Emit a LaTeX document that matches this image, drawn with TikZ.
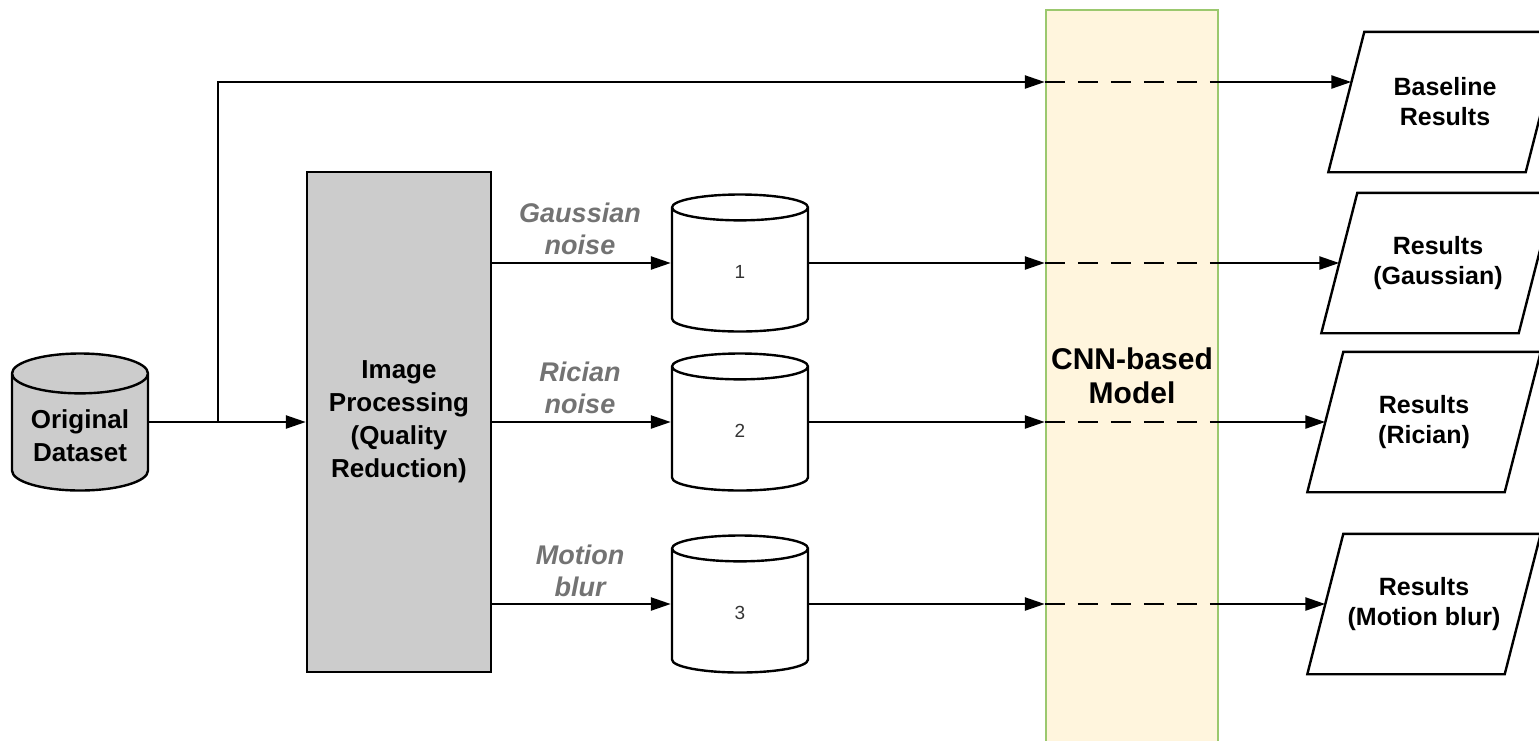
\documentclass[tikz,border=0pt]{standalone}
\usepackage{fontspec}
\setmainfont{Liberation Sans}
\usetikzlibrary{arrows.meta,shapes.geometric}

\definecolor{boxgray}{RGB}{204,204,204}
\definecolor{modelfill}{RGB}{255,245,221}
\definecolor{modelline}{RGB}{155,200,110}
\definecolor{labelgray}{RGB}{115,115,115}

\tikzset{
    flow/.style={-{Triangle[length=20pt,width=13pt]}},
    skip/.style={dash pattern=on 20pt off 13pt},
    db/.style={cylinder, shape border rotate=90, aspect=0.38, draw, anchor=shape center,
        minimum width=136pt, minimum height=137pt, align=center},
    result/.style={minimum width=195pt, minimum height=138pt,
        align=center, font=\fontsize{25}{30}\selectfont\bfseries},
    bigtext/.style={font=\fontsize{26}{33}\selectfont\bfseries, align=center},
    noise/.style={font=\fontsize{27}{32}\selectfont\bfseries\itshape,
        text=labelgray, align=center}
}

\begin{document}
\begin{tikzpicture}[x=1pt, y=-1pt, line width=2.4pt]
    \useasboundingbox (0,0) rectangle (1539,740);

    % model column
    \node[draw=modelline, fill=modelfill, minimum width=172pt, minimum height=732pt,
        align=center, font=\fontsize{30}{34}\selectfont\bfseries] (cnn) at (1132,376) {CNN-based\\Model};

    % input side
    \node[db, fill=boxgray, bigtext] (orig) at (80,422) {Original\\Dataset};
    \node[draw, fill=boxgray, minimum width=184pt, minimum height=500pt, bigtext]
        (proc) at (399,422) {Image\\Processing\\(Quality\\Reduction)};
    \coordinate (split) at (218,422);
    \coordinate (bend) at (218,82);

    % reduced datasets
    \node[db, aspect=1.5, font=\fontsize{19}{22}\selectfont, text=black!80] (db1) at (740,263) {1};
    \node[db, aspect=1.5, font=\fontsize{19}{22}\selectfont, text=black!80] (db2) at (740,422) {2};
    \node[db, aspect=1.5, font=\fontsize{19}{22}\selectfont, text=black!80] (db3) at (740,604) {3};
    \coordinate (row1) at (0,263);
    \coordinate (row2) at (0,422);
    \coordinate (row3) at (0,604);
    \node[noise] (lab1) at (580,229) {Gaussian\\noise};
    \node[noise] (lab2) at (580,388) {Rician\\noise};
    \node[noise] (lab3) at (580,571) {Motion\\blur};

    % outputs
    \node[result] (res0) at (1445,102) {Baseline\\Results};
    \node[result] (res1) at (1438,263) {Results\\(Gaussian)};
    \node[result] (res2) at (1424,422) {Results\\(Rician)};
    \node[result] (res3) at (1424,604) {Results\\(Motion blur)};
    \foreach \r in {res0,res1,res2,res3}
        \draw ([xshift=18pt]\r.north west) -- ([xshift=18pt]\r.north east)
            -- ([xshift=-18pt]\r.south east) -- ([xshift=-18pt]\r.south west) -- cycle;

    \draw[flow] (orig.east |- split) -- (proc.west |- split);
    \draw[flow] (split) -- (bend) -- (cnn.west |- bend);
    \draw[skip] (cnn.west |- bend) -- (cnn.east |- bend);
    \draw[flow] (cnn.east |- bend) -- ([xshift=5pt]res0.west |- bend);

    \foreach \n in {1,2,3} {
        \draw[flow] (proc.east |- row\n) -- (db\n.west |- row\n);
        \draw[flow] (db\n.east |- row\n) -- (cnn.west |- row\n);
        \draw[skip] (cnn.west |- row\n) -- (cnn.east |- row\n);
        \draw[flow] (cnn.east |- row\n) -- (res\n.west);
    }
\end{tikzpicture}
\end{document}
